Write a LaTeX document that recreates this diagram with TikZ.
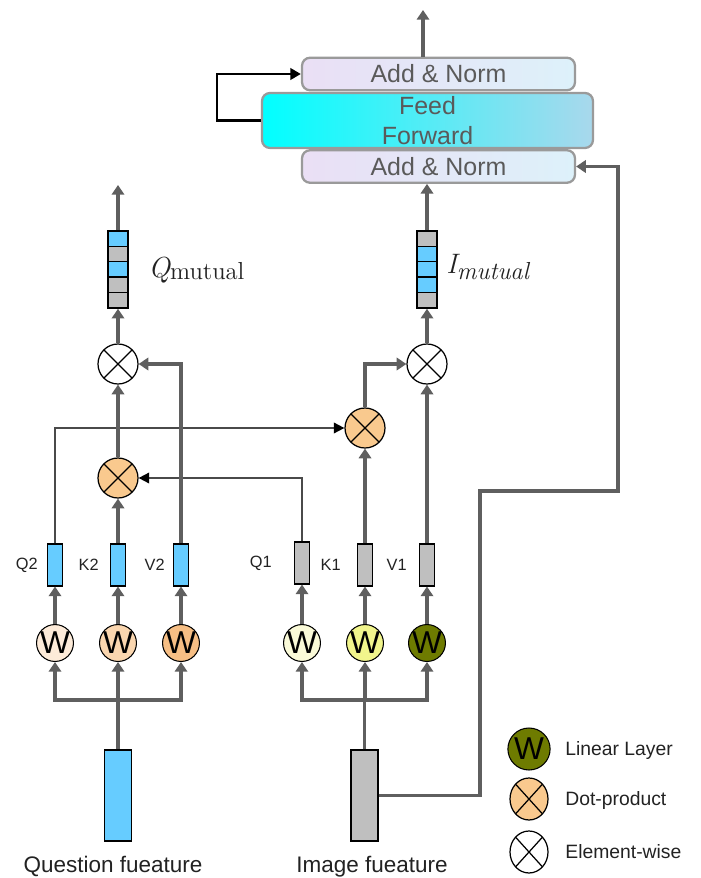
\documentclass[tikz,border=0pt]{standalone}
\usepackage{fontspec}
\usepackage{xcolor}
\newfontfamily\arialf{Liberation Sans}
\usetikzlibrary{arrows.meta, positioning, shapes.geometric, calc}

\definecolor{qblue}{HTML}{66CCFF}
\definecolor{fgray}{HTML}{BFBFBF}
\definecolor{lgray}{HTML}{5F5F5F}
\definecolor{tgray}{HTML}{4A4A4A}
\definecolor{boxgray}{HTML}{9A9A9A}
\definecolor{txtgray}{HTML}{5A5A5A}
\definecolor{lavender}{HTML}{EADFF5}
\definecolor{paleblue}{HTML}{DDF1FA}
\definecolor{ffcyan}{HTML}{00FFFF}
\definecolor{ffblue}{HTML}{A9D8EC}
\definecolor{dotorange}{HTML}{F9C98E}
\definecolor{wpeach}{HTML}{FDEBD9}
\definecolor{wtan}{HTML}{FAD6AF}
\definecolor{worange}{HTML}{F6BE84}
\definecolor{wcream}{HTML}{FAFAD8}
\definecolor{wyellow}{HTML}{F1F58C}
\definecolor{wolive}{HTML}{6E7B00}
\definecolor{labblack}{HTML}{222222}

\begin{document}
\begin{tikzpicture}[x=0.02cm, y=-0.02cm,
  gline/.style={draw=lgray, line width=1.9pt},
  garrow/.style={gline, -{Triangle[length=5.5pt,width=7pt]}},
  tline/.style={draw=tgray, line width=1pt, -{Triangle[length=6pt,width=6pt,color=black]}},
  bar/.style={draw=black, line width=0.6pt, minimum width=0.3cm, minimum height=0.84cm, inner sep=0},
  feat/.style={draw=black, line width=0.8pt, minimum width=0.54cm, minimum height=1.82cm, inner sep=0},
  cell/.style={draw=black, line width=0.8pt, minimum width=0.4cm, minimum height=0.31cm, inner sep=0},
  wnode/.style={circle, draw=black, line width=0.6pt, minimum size=0.72cm, inner sep=0,
    font=\arialf\fontsize{18}{18}\selectfont},
  xnode/.style={circle, draw=black, line width=0.7pt, minimum size=0.8cm, inner sep=0,
    path picture={\draw[black, line width=0.7pt]
      (path picture bounding box.north west) -- (path picture bounding box.south east)
      (path picture bounding box.north east) -- (path picture bounding box.south west);}},
  dotp/.style={xnode, fill=dotorange},
  ewise/.style={xnode, fill=white},
  legshape/.style={ellipse, minimum width=0.76cm, minimum height=0.84cm},
  addnorm/.style={draw=boxgray, line width=1.3pt, rounded corners=0.16cm,
    left color=lavender, right color=paleblue, minimum width=5.46cm, minimum height=0.65cm,
    inner sep=0, text=txtgray, font=\arialf\fontsize{14.2}{17}\selectfont},
  ffbox/.style={addnorm, left color=ffcyan, right color=ffblue, minimum width=6.62cm,
    minimum height=1.1cm, align=center},
  qkv/.style={inner sep=0, text=labblack, font=\arialf\fontsize{9.3}{11}\selectfont},
  featlabel/.style={inner sep=0, text=labblack, font=\arialf\fontsize{12.8}{15}\selectfont},
  legtext/.style={inner sep=0, text=labblack, font=\arialf\fontsize{11}{13}\selectfont},
]
\useasboundingbox (0,0) rectangle (700,878);

% encoder block
\node[addnorm] (an2) at (438.5,74) {Add \& Norm};
\node[ffbox] (ff) at (427.5,120.5) {Feed\\Forward};
\node[addnorm] (an1) at (438.5,166.5) {Add \& Norm};
\coordinate (out) at (423,10);
\draw[garrow] (an2.north -| out) -- (out);
\draw[black, line width=1.5pt, -{Triangle[length=6pt,width=6.5pt]}] (ff.west) -- ++(-44,0) |- (an2.west);

% features
\node[feat, fill=qblue] (qfeat) at (118,795.5) {};
\node[feat, fill=fgray] (ifeat) at (364.5,795.5) {};
\node[featlabel, anchor=base] (qlab) at (113,872) {Question fueature};
\node[featlabel, anchor=base] (ilab) at (372,872) {Image fueature};
\coordinate (qbus) at (118,700);
\coordinate (ibus) at (364.5,700);

% linear layers
\node[wnode, fill=wpeach] (wq2) at (55,643) {W};
\node[wnode, fill=wtan] (wk2) at (118,643) {W};
\node[wnode, fill=worange] (wv2) at (181,643) {W};
\node[wnode, fill=wcream] (wq1) at (302,643) {W};
\node[wnode, fill=wyellow] (wk1) at (365,643) {W};
\node[wnode, fill=wolive] (wv1) at (427,643) {W};

% Q K V
\node[bar, fill=qblue] (q2) at (55,565) {};
\node[bar, fill=qblue] (k2) at (118,565) {};
\node[bar, fill=qblue] (v2) at (181,565) {};
\node[bar, fill=fgray] (q1) at (302,563) {};
\node[bar, fill=fgray] (k1) at (365,565) {};
\node[bar, fill=fgray] (v1) at (427,565) {};
\node[qkv, left=0.18cm of q2] (q2lab) {Q2};
\node[qkv, left=0.22cm of k2] (k2lab) {K2};
\node[qkv, left=0.16cm of v2] (v2lab) {V2};
\node[qkv, left=0.44cm of q1] (q1lab) {Q1};
\node[qkv, left=0.32cm of k1] (k1lab) {K1};
\node[qkv, left=0.24cm of v1] (v1lab) {V1};

% products
\node[dotp] (dotl) at (118,478) {};
\node[dotp] (dotr) at (365,428) {};
\node[ewise] (ewl) at (118,364) {};
\node[ewise] (ewr) at (427,364) {};

% mutual vectors
\foreach \c [count=\i] in {qblue,fgray,qblue,fgray,fgray}
  \node[cell, fill=\c] (qm\i) at (118,{231+(\i-0.5)*15.4}) {};
\foreach \c [count=\i] in {fgray,qblue,qblue,qblue,fgray}
  \node[cell, fill=\c] (im\i) at (427,{231+(\i-0.5)*15.4}) {};
\node[anchor=base west, inner sep=0, text=labblack] (qmlab) at (148,277)
  {{\fontsize{16.5}{18}\selectfont\itshape Q}\raisebox{-1.7pt}{\fontsize{14}{16}\selectfont mutual}};
\node[anchor=base west, inner sep=0, text=labblack] (imlab) at (446,274)
  {{\fontsize{16}{18}\selectfont\itshape I}\raisebox{-3.4pt}{\fontsize{14}{16}\selectfont\itshape mutual}};
\coordinate (qout) at (118,185);

% connections
\draw[gline] (qfeat.north) -- (qbus);
\draw[gline] (ifeat.north) -- (ibus);
\draw[gline, line cap=rect] (wq2.south |- qbus) -- (wv2.south |- qbus);
\draw[gline, line cap=rect] (wq1.south |- ibus) -- (wv1.south |- ibus);
\foreach \n in {q2,k2,v2}
  \draw[garrow] (w\n.south |- qbus) -- (w\n.south);
\foreach \n in {q1,k1,v1}
  \draw[garrow] (w\n.south |- ibus) -- (w\n.south);
\foreach \n in {q2,k2,v2,q1,k1,v1}
  \draw[garrow] (w\n.north) -- (\n.south);

\draw[tline] (q2.north) |- (dotr.west);
\draw[tline] (q1.north) |- (dotl.east);
\draw[garrow] (k2.north) -- (dotl.south);
\draw[garrow] (dotl.north) -- (ewl.south);
\draw[garrow] (v2.north) |- (ewl.east);
\draw[garrow] (ewl.north) -- (qm5.south);
\draw[garrow] (qm1.north) -- (qout);
\draw[garrow] (k1.north) -- (dotr.south);
\draw[garrow] (dotr.north) |- (ewr.west);
\draw[garrow] (v1.north) -- (ewr.south);
\draw[garrow] (ewr.north) -- (im5.south);
\draw[garrow] (im1.north) -- (an1.south -| im1.north);

\coordinate (r1) at (480,491);
\coordinate (r2) at (618,166.5);
\draw[garrow] (ifeat.east) -| (r1) -| (r2) -- (an1.east);

% legend
\node[wnode, legshape, fill=wolive] (legw) at (529,749) {W};
\node[dotp, legshape] (legd) at (529,799) {};
\node[ewise, legshape] (lege) at (529,852) {};
\node[legtext, anchor=base west] (legwt) at (565,755) {Linear Layer};
\node[legtext, anchor=base west] (legdt) at (565,805) {Dot-product};
\node[legtext, anchor=base west] (leget) at (565,858) {Element-wise};
\end{tikzpicture}
\end{document}
